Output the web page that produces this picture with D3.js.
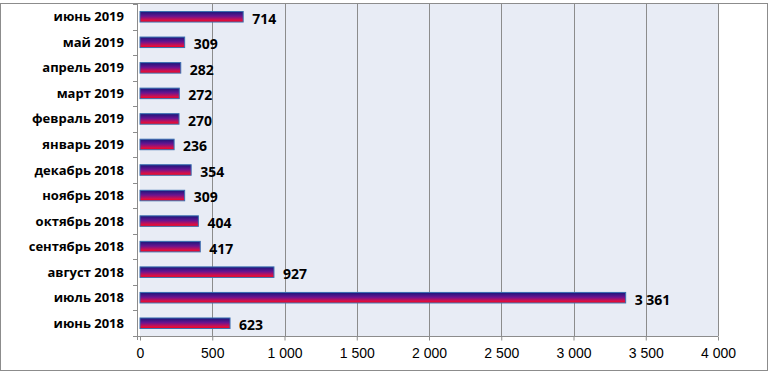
<!DOCTYPE html>
<html>
<head>
<meta charset="utf-8">
<script src="https://cdn.jsdelivr.net/npm/d3@7"></script>
<style>
  body { margin: 0; background: #fff; }
  svg { display: block; font-family: "Open Sans", "Noto Sans", sans-serif; }
  .grid line { stroke: #8c8c8c; stroke-width: 1; }
  .axis path, .axis line { stroke: #8c8c8c; }
  .axis text { fill: #000; font-size: 14px; }
  .ylab { font-weight: bold; font-size: 13px; fill: #000; }
  .val { font-weight: bold; font-size: 14px; fill: #000; }
</style>
</head>
<body>
<svg id="chart" width="772" height="374"></svg>
<script>
// месяцы сверху вниз
const months = ["июнь 2019", "май 2019", "апрель 2019", "март 2019", "февраль 2019", "январь 2019",
  "декабрь 2018", "ноябрь 2018", "октябрь 2018", "сентябрь 2018", "август 2018", "июль 2018", "июнь 2018"];
const counts = [714, 309, 282, 272, 270, 236, 354, 309, 404, 417, 927, 3361, 623];
const xTicks = [0, 500, 1000, 1500, 2000, 2500, 3000, 3500, 4000];

const svg = d3.select("#chart");
const plot = { left: 140, right: 718, top: 4, bottom: 336 };

const fmt = v => d3.format(",")(v).replace(/,/g, " ");

const x = d3.scaleLinear().domain([0, 4000]).range([plot.left, plot.right]);
const y = d3.scaleBand().domain(months).range([plot.top, plot.bottom]);

// градиент для полос
const grad = svg.append("defs").append("linearGradient")
  .attr("id", "barGrad").attr("x1", 0).attr("y1", 0).attr("x2", 0).attr("y2", 1);
grad.append("stop").attr("offset", "0%").attr("stop-color", "#17177a");
grad.append("stop").attr("offset", "45%").attr("stop-color", "#6a1490");
grad.append("stop").attr("offset", "80%").attr("stop-color", "#d4104c");
grad.append("stop").attr("offset", "100%").attr("stop-color", "#ff0010");

// рамка диаграммы
svg.append("rect")
  .attr("x", 0.5).attr("y", 3.5).attr("width", 767).attr("height", 367)
  .attr("fill", "#fff").attr("stroke", "#8c8c8c");

// фон области построения
svg.append("rect")
  .attr("x", plot.left).attr("y", plot.top)
  .attr("width", plot.right - plot.left).attr("height", plot.bottom - plot.top)
  .attr("fill", "#e8ecf5");

// сетка
svg.append("g").attr("class", "grid")
  .selectAll("line")
  .data(xTicks.slice(1))
  .enter()
  .append("line")
  .attr("x1", d => Math.round(x(d)) + 0.5).attr("x2", d => Math.round(x(d)) + 0.5)
  .attr("y1", plot.top).attr("y2", plot.bottom);

// ось X
svg.append("g").attr("class", "axis")
  .attr("transform", `translate(0,${plot.bottom + 0.5})`)
  .call(d3.axisBottom(x).tickValues(xTicks).tickFormat(fmt).tickSize(4).tickSizeOuter(0).tickPadding(8))
  .call(g => g.select(".domain").attr("d", `M${plot.left - 3},0H${plot.right}`));

// ось Y: линия и засечки между категориями
const yAxis = svg.append("g").attr("class", "axis");
yAxis.append("line")
  .attr("x1", plot.left - 2.5).attr("x2", plot.left - 2.5)
  .attr("y1", plot.top).attr("y2", plot.bottom + 4);
yAxis.selectAll(".tk")
  .data(d3.range(months.length + 1))
  .enter()
  .append("line")
  .attr("x1", plot.left - 7).attr("x2", plot.left - 2.5)
  .attr("y1", i => Math.round(plot.top + i * y.step()) + 0.5)
  .attr("y2", i => Math.round(plot.top + i * y.step()) + 0.5);

svg.append("g")
  .selectAll("text")
  .data(months)
  .enter()
  .append("text")
  .attr("class", "ylab")
  .attr("x", 124)
  .attr("y", d => y(d) + y.bandwidth() / 2)
  .attr("dy", "0.35em")
  .attr("text-anchor", "end")
  .text(d => d);

// полосы
const barH = 10.5;
svg.append("g")
  .selectAll("rect")
  .data(months)
  .enter()
  .append("rect")
  .attr("x", x(0))
  .attr("y", d => y(d) + y.bandwidth() / 2 - barH / 2)
  .attr("width", (d, i) => x(counts[i]) - x(0))
  .attr("height", barH)
  .attr("fill", "url(#barGrad)")
  .attr("stroke", "#3a6fb0")
  .attr("stroke-width", 1);

// подписи значений
svg.append("g")
  .selectAll("text")
  .data(months)
  .enter()
  .append("text")
  .attr("class", "val")
  .attr("x", (d, i) => x(counts[i]) + 9)
  .attr("y", d => y(d) + y.bandwidth() / 2 + 2)
  .attr("dy", "0.35em")
  .text((d, i) => fmt(counts[i]));
</script>
</body>
</html>
